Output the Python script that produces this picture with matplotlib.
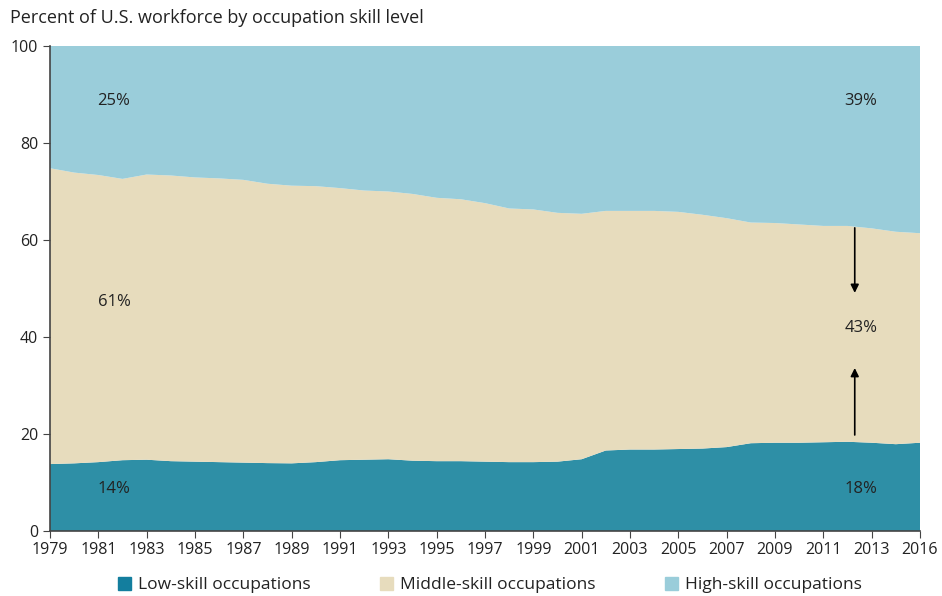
import matplotlib
matplotlib.use("Agg")
import matplotlib.pyplot as plt
import matplotlib.patches as mpatches
import numpy as np

plt.rcParams['font.family'] = ['Open Sans', 'DejaVu Sans']

years = list(range(1979, 2016))
low = [13.8, 13.95, 14.2, 14.6, 14.7, 14.4, 14.3, 14.2, 14.1, 14.0, 13.95, 14.2, 14.6, 14.7,
       14.8, 14.5, 14.4, 14.4, 14.3, 14.2, 14.2, 14.3, 14.8, 16.6, 16.8, 16.8, 16.9, 17.0,
       17.3, 18.1, 18.2, 18.2, 18.3, 18.4, 18.2, 17.9, 18.2]
low_plus_middle = [74.8, 73.9, 73.4, 72.6, 73.5, 73.3, 72.9, 72.7, 72.4, 71.6, 71.2, 71.1, 70.7,
                   70.2, 70.0, 69.5, 68.7, 68.4, 67.6, 66.5, 66.3, 65.6, 65.4, 66.0, 66.0, 66.0,
                   65.8, 65.2, 64.5, 63.6, 63.5, 63.2, 62.9, 62.9, 62.4, 61.7, 61.4]
middle = [t - l for t, l in zip(low_plus_middle, low)]
high = [100 - t for t in low_plus_middle]

tick_years = list(range(1979, 2016, 2))
tick_labels = [str(y) for y in tick_years[:-1]] + ["2016"]

labels = ["Low-skill occupations", "Middle-skill occupations", "High-skill occupations"]
fill_colors = ["#2E8FA6", "#E7DCBD", "#9ACDDA"]
legend_colors = ["#137E9E", "#E7DCBD", "#9ACDDA"]

fig = plt.figure(figsize=(9.42, 5.96), dpi=100)
ax = fig.add_axes([50/942, 1-531/596, 870/942, 485/596])

ax.stackplot(years, low, middle, high, colors=fill_colors, linewidth=0)

ax.set_xlim(1979, 2015)
ax.set_ylim(0, 100)
ax.set_yticks([0, 20, 40, 60, 80, 100])
ax.set_xticks(tick_years)
ax.set_xticklabels(tick_labels)
for s in ["top", "right"]:
    ax.spines[s].set_visible(False)
for s in ["left", "bottom"]:
    ax.spines[s].set_color("#444444")
    ax.spines[s].set_linewidth(1.2)
ax.tick_params(axis="both", direction="out", length=5, color="#444444", labelsize=11.5,
               labelcolor="#222222")
ax.tick_params(axis="x", pad=3)

# annotations
txt_kw = dict(ha="center", va="center", fontsize=12, color="#222222")
ax.text(1981.65, 88.7, "25%", **txt_kw)
ax.text(1981.65, 47.2, "61%", **txt_kw)
ax.text(1981.65, 8.7, "14%", **txt_kw)
ax.text(2012.55, 88.7, "39%", **txt_kw)
ax.text(2012.55, 41.9, "43%", **txt_kw)
ax.text(2012.55, 8.7, "18%", **txt_kw)

arrow_kw = dict(arrowstyle="-|>", color="black", lw=1.2, mutation_scale=12, shrinkA=0, shrinkB=0)
ax.annotate("", xy=(2012.3, 49.1), xytext=(2012.3, 62.5), arrowprops=arrow_kw)
ax.annotate("", xy=(2012.3, 33.6), xytext=(2012.3, 19.8), arrowprops=arrow_kw)

fig.text(10/942, 1-18/596, "Percent of U.S. workforce by occupation skill level",
         ha="left", va="center", fontsize=13, color="#222222")

handles = [mpatches.Patch(color=c, label=l) for c, l in zip(legend_colors, labels)]
fig.legend(handles=handles, loc="center", bbox_to_anchor=(489.5/942, 1-585/596), ncol=3,
           frameon=False, fontsize=12.5, handlelength=0.75, handleheight=0.75, handletextpad=0.4,
           columnspacing=4.0, labelcolor="#222222")

fig.savefig("out.png", dpi=100)
